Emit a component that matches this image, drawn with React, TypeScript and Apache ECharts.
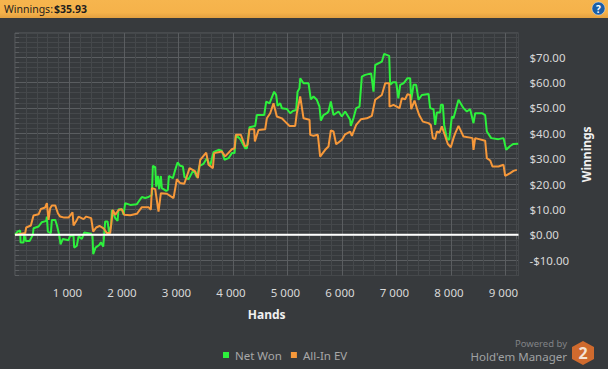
import React, { useEffect, useRef } from "react";
import * as echarts from "echarts";

const netHands = [0,47,95,102,157,169,200,267,328,340,432,493,573,585,603,658,677,738,768,811,836,878,982,1013,1074,1086,1135,1166,1227,1270,1398,1423,1435,1478,1551,1576,1619,1655,1698,1729,1765,1778,1839,1882,1900,1961,1992,2022,2114,2236,2328,2389,2450,2512,2530,2573,2591,2622,2646,2677,2695,2775,2805,2824,2897,2940,2983,3032,3081,3111,3184,3276,3337,3386,3460,3521,3582,3643,3735,3796,3845,3918,3980,4029,4053,4133,4224,4255,4304,4408,4438,4573,4610,4671,4756,4793,4818,4867,4897,4989,5050,5099,5160,5185,5221,5234,5295,5387,5429,5478,5539,5588,5613,5662,5723,5753,5796,5845,5937,5998,6059,6151,6163,6212,6261,6322,6365,6426,6536,6579,6610,6732,6775,6867,6885,6934,6995,7035,7069,7130,7203,7252,7271,7313,7362,7405,7466,7589,7619,7680,7711,7742,7803,7815,7852,7876,7925,7968,8017,8047,8139,8231,8292,8353,8414,8445,8567,8628,8659,8739,8873,8965,9014,9087,9148,9235];
const netValues = [0,1.3,1.7,-3,-3,0.3,-2.4,-2.4,0,2.6,3.3,5,5.5,7.2,1.3,0.7,5.9,5.9,3.9,0,-3.7,-1.6,-2.1,-0.3,-0.3,-5,-4.3,-0.6,-1.6,0.9,0.4,-0.6,-7.6,-5,-3.9,-2.9,-4.6,5.3,5.3,0.7,3.9,9.8,6.6,5.5,10.1,10.1,7.9,12.5,11.8,12.1,14.9,14.5,14.9,15.8,27.2,26.7,19,23.2,18,23.2,18.4,17.3,17.7,23.2,22.3,25.6,28.5,27.2,26.9,22.7,21.9,25.6,22.7,27.2,28,30.2,27.2,32.6,33.5,33.1,29.6,30.2,32.2,32.2,39.4,37.7,34.1,34.1,42.4,42.9,47.2,47.2,52.5,51.8,56.4,55.1,50.8,51.8,49.9,49.6,47.9,48.8,49.2,56.4,57.7,61.7,59.7,59.7,53.4,54.5,53.2,50.5,45,47.2,47.9,48.6,52.5,47.2,48.6,46.6,48.6,45.3,42.9,46,49.9,50.5,62.3,63,63.6,56.4,66.9,68.2,71.3,70.5,59.1,60.1,60.1,53.8,59.1,59.7,61.7,61.7,53.1,59.1,59.1,53.2,55.1,55.5,49.9,49.5,43.3,48.2,48.2,51.2,51.2,43.3,38.1,37.4,46.6,45.9,53.2,49.9,48.6,49.5,44,47.9,47.9,47.2,40.7,38.1,37.7,38.1,33.5,35,35.8,35.93];

const evHands = [0,187,206,291,340,432,475,554,585,615,646,677,738,787,829,903,982,1056,1074,1135,1166,1258,1307,1398,1435,1490,1551,1625,1686,1747,1778,1796,1839,1900,1961,2004,2114,2236,2328,2450,2493,2512,2573,2634,2677,2787,2909,2970,3032,3105,3142,3203,3307,3356,3399,3509,3551,3631,3655,3796,3857,3980,4029,4053,4145,4224,4267,4304,4389,4402,4469,4591,4622,4683,4744,4805,4897,4958,5038,5142,5172,5234,5295,5405,5417,5478,5558,5600,5692,5753,5796,5845,5894,5998,6059,6151,6182,6261,6347,6457,6549,6610,6732,6794,6867,6873,6946,7056,7099,7160,7203,7252,7271,7332,7374,7417,7485,7589,7631,7668,7711,7742,7790,7833,7876,7943,7998,8047,8078,8139,8231,8353,8396,8414,8445,8628,8659,8720,8763,8873,8965,8995,9087,9148,9210];
const evValues = [0,0.7,2.9,3.7,7.6,8.1,10.2,10.8,12.5,5.9,10.5,11.6,11.6,8.5,7.2,6.8,6.8,8.9,3.7,5.9,7.2,6.2,7.2,6.6,1.3,2.9,3.5,2.6,0.7,0.7,6.6,9.8,7.9,9.8,10.1,7.9,7.7,8.3,10.9,10.9,9.9,18.4,18,9.2,16.4,16.2,14.5,21.9,20.4,20.1,22.3,26.3,25,22.3,29.5,32.4,27.6,26.3,32.2,32.8,30.9,33.7,34.1,39.4,39.4,34.8,35.4,41.6,41.6,36.8,41.3,41.6,45.9,47.9,51.8,46.6,45.9,44.6,42.9,42.9,47.9,54.5,45.9,45.3,39.4,39,39.4,30.8,33.5,34.8,41.1,40.7,35.7,37.4,39.6,40.7,39,43.3,45.5,45.9,46.9,53.2,55.1,59.7,59.7,50.5,51.2,49.9,53.8,53.4,55.4,55.1,49.5,52.9,49.9,47.2,44.6,44,43.3,38.1,37.7,40.7,40.3,42.7,40,35.8,34.5,38.1,40,42.9,38.7,38.3,38.1,33.5,38.1,37.1,30.2,29.3,26.9,26.9,27.6,23.2,24.3,25.2,25.6];

const xMajor = [1000,2000,3000,4000,5000,6000,7000,8000,9000];
const yMajor = [-10,0,10,20,30,40,50,60,70];
const seriesNames = ["Net Won","All-In EV"];
const zeroLine = [[0,0],[9240,0]];

const FONT = "Noto Sans";
const MINOR = "#45484b";
const MAJOR = "#5a5d60";
const BG = "#373a3d";
const GREEN = "#2df03c";
const ORANGE = "#f6983a";

const zip = (a: number[], b: number[]) => a.map((v, i) => [v, b[i]]);
const fmtX = (v: number) => `${Math.floor(v / 1000)} 000`;
const fmtY = (v: number) => (v < 0 ? `-$${(-v).toFixed(2)}` : `$${v.toFixed(2)}`);

echarts.graphic.registerShape(
  "hmHex",
  echarts.graphic.extendPath("M11 0L22 6L22 18L11 24L0 18L0 6Z", {})
);

export default function App() {
  const ref = useRef<HTMLDivElement>(null);
  useEffect(() => {
    document.body.style.margin = "0";
    document.body.style.background = BG;
    const chart = echarts.init(ref.current!, undefined, { renderer: "svg" });
    const xBase = { type: "value", min: 0, max: 9240, position: "bottom" };
    const yBase = { type: "value", min: -16, max: 79.5, position: "right" };
    chart.setOption({
      animation: false,
      backgroundColor: BG,
      grid: { left: 15, top: 33, width: 503.5, height: 242.5, show: true, borderColor: MAJOR, borderWidth: 1, backgroundColor: "transparent" },
      xAxis: [
        { ...xBase, interval: 200, axisLine: { show: false }, axisLabel: { show: false },
          axisTick: { show: true, length: 4, lineStyle: { color: MAJOR } },
          splitLine: { show: true, lineStyle: { color: MINOR, width: 1 } } },
        { ...xBase, interval: 1000, axisLine: { show: false },
          name: "Hands", nameLocation: "middle", nameGap: 33,
          nameTextStyle: { color: "#f0f0f0", fontFamily: FONT, fontSize: 12, fontWeight: "bold" },
          axisTick: { show: true, length: 8, customValues: xMajor, lineStyle: { color: MAJOR } },
          axisLabel: { color: "#d8d8d8", fontFamily: FONT, fontSize: 11.5, margin: 11, padding: [0, 4, 0, 0], customValues: xMajor, formatter: fmtX, showMinLabel: true, showMaxLabel: true },
          splitLine: { show: true, lineStyle: { color: MAJOR, width: 1 } } },
      ],
      yAxis: [
        { ...yBase, interval: 2, axisLine: { show: false }, axisLabel: { show: false },
          axisTick: { show: true, length: 4, lineStyle: { color: MAJOR } },
          splitLine: { show: true, lineStyle: { color: MINOR, width: 1 } } },
        { ...yBase, interval: 10, axisLine: { show: false },
          name: "Winnings", nameLocation: "middle", nameRotate: 90, nameGap: 59,
          nameTextStyle: { color: "#f0f0f0", fontFamily: FONT, fontSize: 12, fontWeight: "bold" },
          axisTick: { show: true, length: 8, customValues: yMajor, lineStyle: { color: MAJOR } },
          axisLabel: { color: "#d8d8d8", fontFamily: FONT, fontSize: 11.5, margin: 11, customValues: yMajor, formatter: fmtY },
          splitLine: { show: true, lineStyle: { color: MAJOR, width: 1 } } },
      ],
      legend: {
        data: seriesNames, left: 218, top: 344, itemWidth: 6, itemHeight: 6, itemGap: 9,
        icon: "rect", textStyle: { color: "#a8a8a8", fontFamily: FONT, fontSize: 11.5, padding: [0, 0, 0, 1] },
      },
      series: [
        { name: seriesNames[0], type: "line", xAxisIndex: 1, yAxisIndex: 1, data: zip(netHands, netValues), showSymbol: false, symbol: "none", lineStyle: { color: GREEN, width: 2 }, itemStyle: { color: GREEN }, z: 3 },
        { name: seriesNames[1], type: "line", xAxisIndex: 1, yAxisIndex: 1, data: zip(evHands, evValues), showSymbol: false, symbol: "none", lineStyle: { color: ORANGE, width: 2 }, itemStyle: { color: ORANGE }, z: 4 },
        { name: "zero", type: "line", xAxisIndex: 1, yAxisIndex: 1, data: zeroLine, showSymbol: false, symbol: "none", lineStyle: { color: "#ffffff", width: 2 }, itemStyle: { color: "#ffffff" }, z: 5 },
      ],
      graphic: [
        { type: "rect", x: 0, y: 0, shape: { x: 0, y: 0, width: 608, height: 18 }, z: 10,
          style: { fill: new echarts.graphic.LinearGradient(0, 0, 0, 1, [{ offset: 0, color: "#f6b54e" }, { offset: 0.7, color: "#f5b24a" }, { offset: 1, color: "#e2a040" }]) } },
        { type: "text", x: 4, y: 3, z: 11, style: { text: "Winnings:", fill: "#1e1e1e", font: `10.5px "${FONT}"` } },
        { type: "text", x: 54, y: 3, z: 11, style: { text: "$35.93", fill: "#1e1e1e", font: `bold 10.5px "${FONT}"` } },
        { type: "circle", shape: { cx: 598.5, cy: 8.5, r: 6.5 }, z: 11, style: { fill: "#1b5ea6", stroke: "#e8eef5", lineWidth: 0.5 } },
        { type: "text", x: 598.5, y: 8.5, z: 12, style: { text: "?", fill: "#ffffff", font: `bold 10px "${FONT}"`, align: "center", verticalAlign: "middle" } },
        { type: "text", x: 567, y: 343.5, z: 11, style: { text: "Powered by", fill: "#808285", font: `9.5px "${FONT}"`, lineHeight: 10, align: "right", verticalAlign: "middle" } },
        { type: "text", x: 567, y: 356, z: 11, style: { text: "Hold'em Manager", fill: "#a0a2a4", font: `11.5px "${FONT}"`, lineHeight: 12, align: "right", verticalAlign: "middle" } },
        { type: "hmHex", x: 572, y: 341, z: 11, style: { fill: "#cf6a2e" } },
        { type: "text", x: 583, y: 353, z: 12, style: { text: "2", fill: "#f4e2d4", font: `bold 16px "${FONT}"`, align: "center", verticalAlign: "middle" } },
      ],
    });
    return () => chart.dispose();
  }, []);
  return <div ref={ref} style={{ width: 608, height: 369 }} />;
}
